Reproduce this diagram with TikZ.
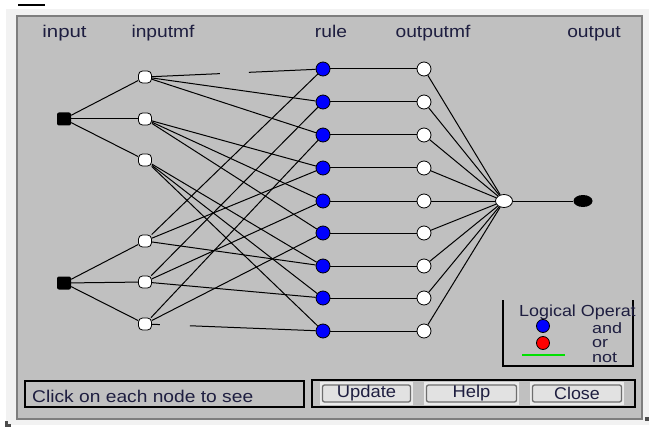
\documentclass[tikz,border=0pt]{standalone}
\usepackage{fontspec}
\setmainfont{Liberation Sans}
\usepackage{graphicx}
\usetikzlibrary{shapes.geometric}

\definecolor{panel}{HTML}{C0C0C0}
\definecolor{paneledge}{HTML}{7E7E7E}
\definecolor{outerbg}{HTML}{F2F2F2}
\definecolor{txt}{HTML}{1E1E40}
\definecolor{rulefill}{HTML}{0000FF}
\definecolor{orfill}{HTML}{FF0000}
\definecolor{notline}{HTML}{00E000}
\definecolor{btnface}{HTML}{E2E2E2}
\definecolor{btnedge}{HTML}{6E6E6E}

% horizontally widened text, as the window font is set
\newcommand\widetxt[2][1.13]{\scalebox{#1}[1]{#2}}

\tikzset{
  lbl/.style={font=\fontsize{17}{20}\selectfont, text=txt, inner sep=0pt},
  legitem/.style={lbl, font=\fontsize{15}{16}\selectfont, anchor=base west, text height=8pt, text depth=1pt},
  inpt/.style={rectangle, rounded corners=2pt, fill=black, minimum width=14pt, minimum height=13pt, inner sep=0pt},
  inmf/.style={rectangle, rounded corners=4pt, fill=white, draw=black, line width=0.8pt, minimum width=13pt, minimum height=12pt, inner sep=0pt},
  rulenode/.style={circle, fill=rulefill, draw=black, line width=0.8pt, minimum size=14pt, inner sep=0pt},
  outmf/.style={circle, fill=white, draw=black, line width=0.8pt, minimum size=14pt, inner sep=0pt},
  aggnode/.style={ellipse, fill=white, draw=black, line width=0.8pt, minimum width=17pt, minimum height=13pt, inner sep=0pt},
  outnode/.style={ellipse, fill=black, minimum width=19pt, minimum height=12pt, inner sep=0pt},
  edge/.style={draw=black, line width=1pt},
  frame/.style={draw=black, line width=1.5pt},
  button/.style={rectangle, rounded corners=2pt, fill=btnface, draw=btnedge, line width=1.3pt,
                 minimum height=17pt, inner sep=0pt, font=\fontsize{17}{20}\selectfont, text=txt},
}

\begin{document}
\begin{tikzpicture}[x=1pt, y=-1pt]
\useasboundingbox (0,0) rectangle (649,428);
\fill[white] (0,0) rectangle (649,428);
\fill[outerbg] (6,9) rectangle (649,425);

% window panel
\fill[panel] (17,16) rectangle (642,419);
\draw[paneledge, line width=1.5pt] (17,16) rectangle (642,419);

% stray marks of the window frame
\fill[black] (18,4) rectangle (45,6.5);
\fill[black!70] (5,421) rectangle (8,427);
\fill[black!70] (5,424) rectangle (11,427);
\fill[black!70] (645,417) rectangle (649,421);

% column headings
\node[lbl, anchor=base] (hin)   at (64.5,38) {\widetxt[1.2]{input}};
\node[lbl, anchor=base] (hinmf) at (163,38)  {\widetxt{inputmf}};
\node[lbl, anchor=base] (hrule) at (331,38)  {\widetxt{rule}};
\node[lbl, anchor=base] (houtmf) at (433,38) {\widetxt{outputmf}};
\node[lbl, anchor=base] (hout)  at (594,38)  {\widetxt{output}};

% inputs
\node[inpt] (in1) at (64,119) {};
\node[inpt] (in2) at (64,283) {};

% input membership functions
\node[inmf] (mf1) at (145,77) {};
\node[inmf] (mf2) at (145,119) {};
\node[inmf] (mf3) at (145,160) {};
\node[inmf] (mf4) at (145,241) {};
\node[inmf] (mf5) at (145,282) {};
\node[inmf] (mf6) at (145,324) {};

% rules and output membership functions
\foreach \k/\y in {1/69,2/102,3/135,4/168,5/201,6/233,7/266,8/298,9/331}{
  \node[rulenode] (r\k) at (323,\y) {};
  \node[outmf] (o\k) at (424,\y) {};
}

% aggregation and output
\node[aggnode] (agg) at (504,201) {};
\node[outnode] (out) at (583,201) {};

% input to membership functions
\foreach \m in {1,2,3}{ \draw[edge] (in1) -- (mf\m); }
\foreach \m in {4,5,6}{ \draw[edge] (in2) -- (mf\m); }

% rule antecedents
\draw[edge, dash pattern=on 68pt off 29pt on 300pt] (mf1) -- (r1);
\draw[edge] (mf1) -- (r2);
\draw[edge] (mf1) -- (r3);
\draw[edge] (mf2) -- (r4);
\draw[edge] (mf2) -- (r5);
\draw[edge] (mf2) -- (r6);
\draw[edge] (mf3) -- (r7);
\draw[edge] (mf3) -- (r8);
\draw[edge] (mf3) -- (r9);
\draw[edge] (mf4) -- (r1);
\draw[edge] (mf5) -- (r2);
\draw[edge] (mf6) -- (r3);
\draw[edge] (mf4) -- (r4);
\draw[edge] (mf5) -- (r5);
\draw[edge] (mf6) -- (r6);
\draw[edge] (mf4) -- (r7);
\draw[edge] (mf5) -- (r8);
\draw[edge, dash pattern=on 8pt off 30pt on 300pt] (mf6) -- (r9);

% rule consequents and aggregation
\foreach \k in {1,...,9}{
  \draw[edge] (r\k) -- (o\k);
  \draw[edge] (o\k) -- (agg);
}
\draw[edge] (agg) -- (out);

% legend of logical operators
\draw[frame] (503,300) -- (503,366) -- (633,366) -- (633,300);
\node[lbl, font=\fontsize{16}{18}\selectfont, anchor=base west, text height=11.5pt, text depth=1pt] (legtitle) at (519,316.5) {\widetxt[1.12]{Logical Operat}};
\node[rulenode, minimum size=13pt] (legand) at (543,326) {};
\node[circle, fill=orfill, draw=black, line width=0.8pt, minimum size=13pt, inner sep=0pt] (legor) at (543,343) {};
\coordinate (notA) at (522,355);
\coordinate (notB) at (565,355);
\draw[notline, line width=1.6pt] (notA) -- (notB);
\node[legitem] (legandt) at (592,333) {\widetxt[1.2]{and}};
\node[legitem] (legort)  at (592,347.5) {\widetxt[1.2]{or}};
\node[legitem] (legnott) at (592,362) {\widetxt[1.2]{not}};

% status line
\draw[frame] (25,381) rectangle (304,407);
\node[lbl, anchor=base west] (status) at (32,402) {\widetxt{Click on each node to see}};

% buttons
\draw[frame] (312,380) rectangle (635,407);
\fill[white!92!black] (320,382) rectangle (413,405);
\fill[white!92!black] (424,382) rectangle (519,405);
\fill[white!92!black] (530,382) rectangle (624,405);
\node[button, minimum width=88pt] (bupdate) at (366.5,393.5) {\widetxt[1.08]{Update}};
\node[button, minimum width=90pt] (bhelp)   at (471.5,393.5) {\widetxt[1.08]{Help}};
\node[button, minimum width=89pt] (bclose)  at (577,393.5)   {\widetxt[1.05]{Close}};
\end{tikzpicture}
\end{document}
